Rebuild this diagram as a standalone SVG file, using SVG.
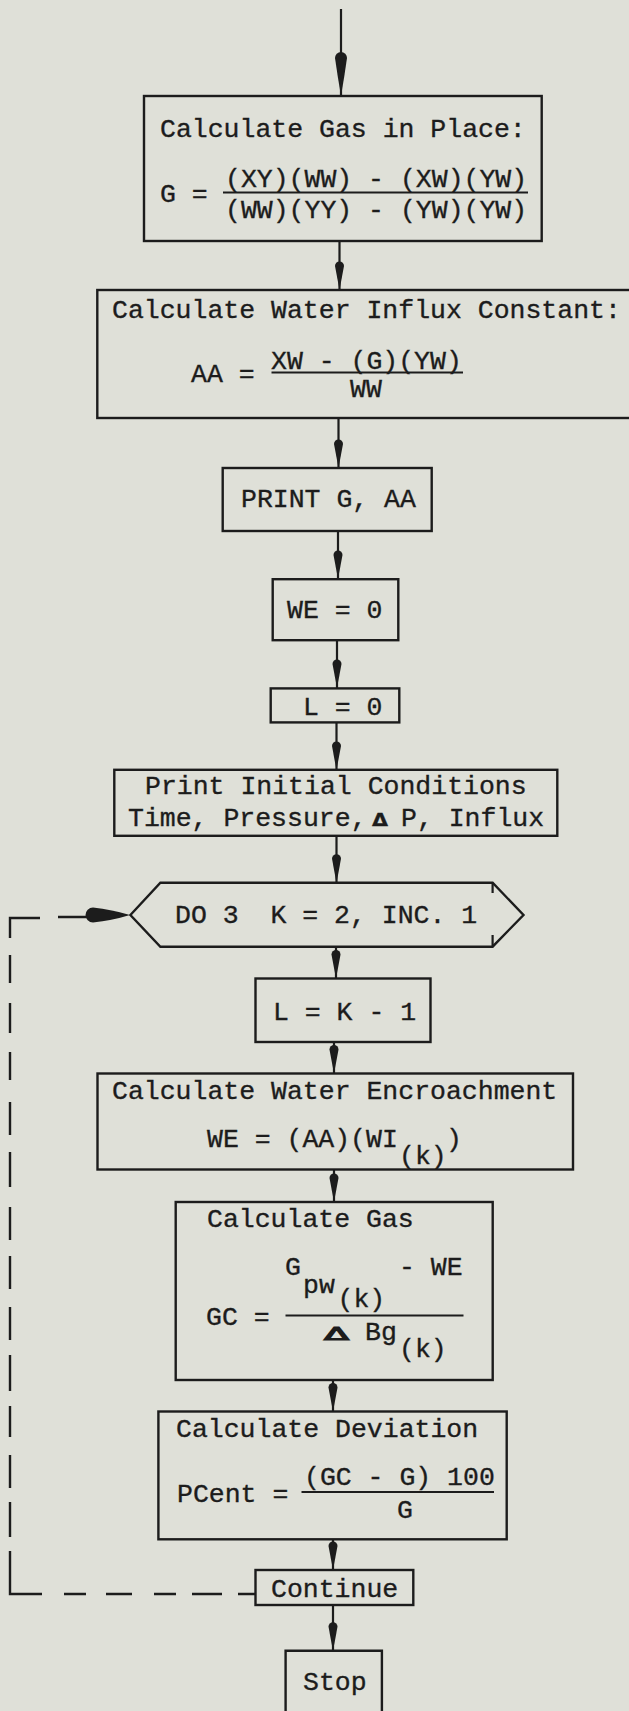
<svg xmlns="http://www.w3.org/2000/svg" xmlns:xlink="http://www.w3.org/1999/xlink" width="629" height="1711" viewBox="0 0 629 1711">
<style>
.bg{fill:#dfe0d8}
.box{fill:none;stroke:#1c1c1c;stroke-width:2.4}
.ln{fill:none;stroke:#1c1c1c;stroke-width:2.2}
.dash{fill:none;stroke:#1c1c1c;stroke-width:2.4}
.head{fill:#1c1c1c}
text{font-family:"Liberation Mono","DejaVu Sans Mono",monospace;font-size:26.5px;fill:#1c1c1c;stroke:#1c1c1c;stroke-width:0.35;white-space:pre}
.dl{font-family:"DejaVu Sans","Liberation Sans",sans-serif;font-weight:bold;font-size:18px}
.dl2{font-family:"DejaVu Sans","Liberation Sans",sans-serif;font-size:18px;stroke-width:1.2}
</style>
<defs>
<path id="tdbig" d="M0,0 Q-3.5,-20 -6,-38 A6,6 0 0 1 6,-38 Q3.5,-20 0,0 Z"/>
<path id="td" d="M0,0 Q-2.5,-13 -4.5,-24 A4.5,4.5 0 0 1 4.5,-24 Q2.5,-13 0,0 Z"/>
</defs>
<rect class="bg" x="0" y="0" width="629" height="1711"/>

<g id="connectors">
  <path class="ln" d="M341,9 V96 M339.5,241 V290 M338.5,418 V468 M338,531 V579 M337,640 V688 M336.5,722 V770 M336.5,835.6 V882.7 M336,947 V978.5 M334,1042 V1073.5 M334,1169.5 V1202 M333,1380 V1411.5 M333,1539 V1570 M333,1605 V1650.7"/>
  <g class="head">
    <use xlink:href="#tdbig" transform="translate(341,96)"/>
    <use xlink:href="#td" transform="translate(339.5,290)"/>
    <use xlink:href="#td" transform="translate(338.5,468)"/>
    <use xlink:href="#td" transform="translate(338,579)"/>
    <use xlink:href="#td" transform="translate(337,688)"/>
    <use xlink:href="#td" transform="translate(336.5,770)"/>
    <use xlink:href="#td" transform="translate(336.5,882.7)"/>
    <use xlink:href="#td" transform="translate(336,978.5)"/>
    <use xlink:href="#td" transform="translate(334,1073.5)"/>
    <use xlink:href="#td" transform="translate(334,1202)"/>
    <use xlink:href="#td" transform="translate(333,1411.5)"/>
    <use xlink:href="#td" transform="translate(333,1570)"/>
    <use xlink:href="#td" transform="translate(333,1650.7)"/>
  </g>
  <g id="loop-back">
    <path class="dash" d="M58,917 H86 M40,918 H10 V938 M10,955 V983 M10,1003 V1033 M10,1052 V1080 M10,1102 V1135 M10,1152 V1187 M10,1207 V1240 M10,1256 V1289 M10,1307 V1340 M10,1355 V1391 M10,1406 V1437 M10,1455 V1488 M10,1502 V1537 M10,1551 V1594 H42 M64,1594 H86 M106,1594 H132 M154,1594 H176 M192,1594 H222 M238,1594 H255.5"/>
    <path class="head" d="M130,915 Q112,909.5 93,907.5 A7.5,7.5 0 0 0 93,922.5 Q112,920.5 130,915 Z"/>
  </g>
</g>

<g id="n-gas-in-place">
  <rect class="box" x="144" y="96" width="397.7" height="145"/>
  <text x="160" y="137">Calculate Gas in Place:</text>
  <text x="160" y="202">G =</text>
  <text x="225" y="187">(XY)(WW) - (XW)(YW)</text>
  <line class="ln" x1="223" y1="192.5" x2="528" y2="192.5"/>
  <text x="225" y="218">(WW)(YY) - (YW)(YW)</text>
</g>

<g id="n-water-influx">
  <rect class="box" x="97.3" y="290" width="560" height="128"/>
  <text x="112" y="317.5">Calculate Water Influx Constant:</text>
  <text x="191" y="381.5">AA =</text>
  <text x="271" y="369">XW - (G)(YW)</text>
  <line class="ln" x1="271.5" y1="372.5" x2="463" y2="372.5"/>
  <text x="350" y="396.5">WW</text>
</g>

<g id="n-print-g-aa">
  <rect class="box" x="222.7" y="468" width="209" height="63"/>
  <text x="241" y="507">PRINT G, AA</text>
</g>

<g id="n-we0">
  <rect class="box" x="272.7" y="579.2" width="125.6" height="61"/>
  <text x="287" y="618">WE = 0</text>
</g>

<g id="n-l0">
  <rect class="box" x="270.7" y="688.4" width="128.6" height="34"/>
  <text x="303" y="714.5">L = 0</text>
</g>

<g id="n-print-initial">
  <rect class="box" x="114.3" y="769.8" width="443" height="66"/>
  <text x="145" y="793.5">Print Initial Conditions</text>
  <text y="826"><tspan x="128">Time, Pressure,</tspan><tspan x="372" class="dl" textLength="16" lengthAdjust="spacingAndGlyphs">Δ</tspan><tspan x="401">P, Influx</tspan></text>
</g>

<g id="n-do-loop">
  <polygon class="box" points="130.4,915 160.4,882.7 492.6,882.7 523.5,915 492.6,946.7 160.4,946.7"/>
  <path class="ln" d="M492.6,882.7 V893 M492.6,935 V946.7"/>
  <text x="175" y="923">DO 3  K = 2, INC. 1</text>
</g>

<g id="n-l-k">
  <rect class="box" x="255.5" y="978.5" width="175" height="63.5"/>
  <text x="273" y="1020">L = K - 1</text>
</g>

<g id="n-water-encroachment">
  <rect class="box" x="97.5" y="1073.5" width="475.5" height="96"/>
  <text x="112" y="1098.5">Calculate Water Encroachment</text>
  <text y="1146.5"><tspan x="207">WE = (AA)(WI</tspan><tspan x="399" y="1163.5">(k)</tspan><tspan x="446" y="1146.5">)</tspan></text>
</g>

<g id="n-calc-gas">
  <rect class="box" x="175.7" y="1202" width="317" height="178"/>
  <text x="207" y="1227">Calculate Gas</text>
  <text x="206" y="1325">GC =</text>
  <text y="1275"><tspan x="285">G</tspan><tspan x="303" y="1293">pw</tspan><tspan x="337.5" y="1307">(k)</tspan><tspan x="399" y="1275">- WE</tspan></text>
  <line class="ln" x1="285.5" y1="1315.5" x2="463.5" y2="1315.5"/>
  <text y="1340"><tspan x="324" class="dl2" textLength="25" lengthAdjust="spacingAndGlyphs">Δ</tspan><tspan x="365">Bg</tspan></text>
  <text x="399" y="1357">(k)</text>
</g>

<g id="n-deviation">
  <rect class="box" x="158.4" y="1411.5" width="348.3" height="127.8"/>
  <text x="176" y="1437">Calculate Deviation</text>
  <text x="177" y="1502">PCent =</text>
  <text x="304" y="1485">(GC - G) 100</text>
  <line class="ln" x1="301.5" y1="1492" x2="494" y2="1492"/>
  <text x="397" y="1517.5">G</text>
</g>

<g id="n-continue">
  <rect class="box" x="255.5" y="1570" width="157.8" height="35"/>
  <text x="271" y="1597">Continue</text>
</g>

<g id="n-stop">
  <path class="box" d="M285.6,1720 V1650.7 H381.9 V1720"/>
  <text x="303" y="1690">Stop</text>
</g>
</svg>
